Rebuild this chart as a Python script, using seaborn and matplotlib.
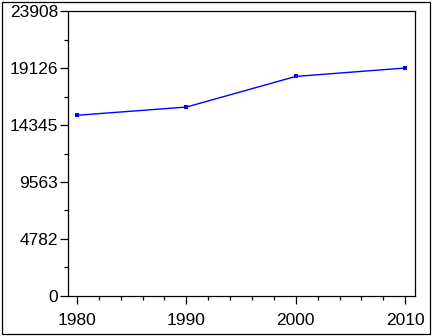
import matplotlib
matplotlib.use("Agg")
import matplotlib.pyplot as plt
import seaborn as sns
import pandas as pd
from matplotlib.ticker import FixedLocator, FixedFormatter
from matplotlib.patches import Rectangle

years = [1980, 1990, 2000, 2010]
values = [15160, 15850, 18420, 19126]
y_ticks = [0, 4782, 9563, 14345, 19126, 23908]
y_labels = ["0", "4782", "9563", "14345", "19126", "23908"]
x_ticks = [1980, 1990, 2000, 2010]
x_labels = ["1980", "1990", "2000", "2010"]

sns.set_style("ticks")
plt.rcParams["font.family"] = ["Liberation Sans", "DejaVu Sans"]

df = pd.DataFrame({"year": years, "value": values})

fig = plt.figure(figsize=(4.32, 3.36), dpi=100)
ax = fig.add_axes([68 / 432, 40 / 336, 347 / 432, 285 / 336])

sns.lineplot(data=df, x="year", y="value", ax=ax, color="#0000ff",
             marker="s", markersize=3.2, markeredgewidth=0, linewidth=1.0)

ax.set_xlim(1979.18, 2010.9)
ax.set_ylim(y_ticks[0], y_ticks[-1])

ax.yaxis.set_major_locator(FixedLocator(y_ticks))
ax.yaxis.set_major_formatter(FixedFormatter(y_labels))
y_minor = [(a + b) / 2 for a, b in zip(y_ticks[:-1], y_ticks[1:])]
ax.yaxis.set_minor_locator(FixedLocator(y_minor))

ax.xaxis.set_major_locator(FixedLocator(x_ticks))
ax.xaxis.set_major_formatter(FixedFormatter(x_labels))
x_minor = [y for y in range(x_ticks[0], x_ticks[-1] + 1, 2) if y not in x_ticks]
ax.xaxis.set_minor_locator(FixedLocator(x_minor))

ax.set_xlabel("")
ax.set_ylabel("")

for s in ax.spines.values():
    s.set_visible(True)
    s.set_linewidth(0.9)
    s.set_color("black")

ax.tick_params(axis="both", which="major", length=6, width=0.9, color="black",
               labelsize=12.5, labelcolor="black", direction="out")
ax.tick_params(axis="both", which="minor", length=3, width=0.9, color="black",
               direction="out")
ax.tick_params(axis="y", which="major", pad=1)
ax.tick_params(axis="x", which="major", pad=6.5)

fig.patches.append(Rectangle((1.5 / 432, 2.5 / 336), 428 / 432, 332 / 336,
                             transform=fig.transFigure, fill=False,
                             edgecolor="black", linewidth=0.9))

fig.savefig("out.png", dpi=100)
